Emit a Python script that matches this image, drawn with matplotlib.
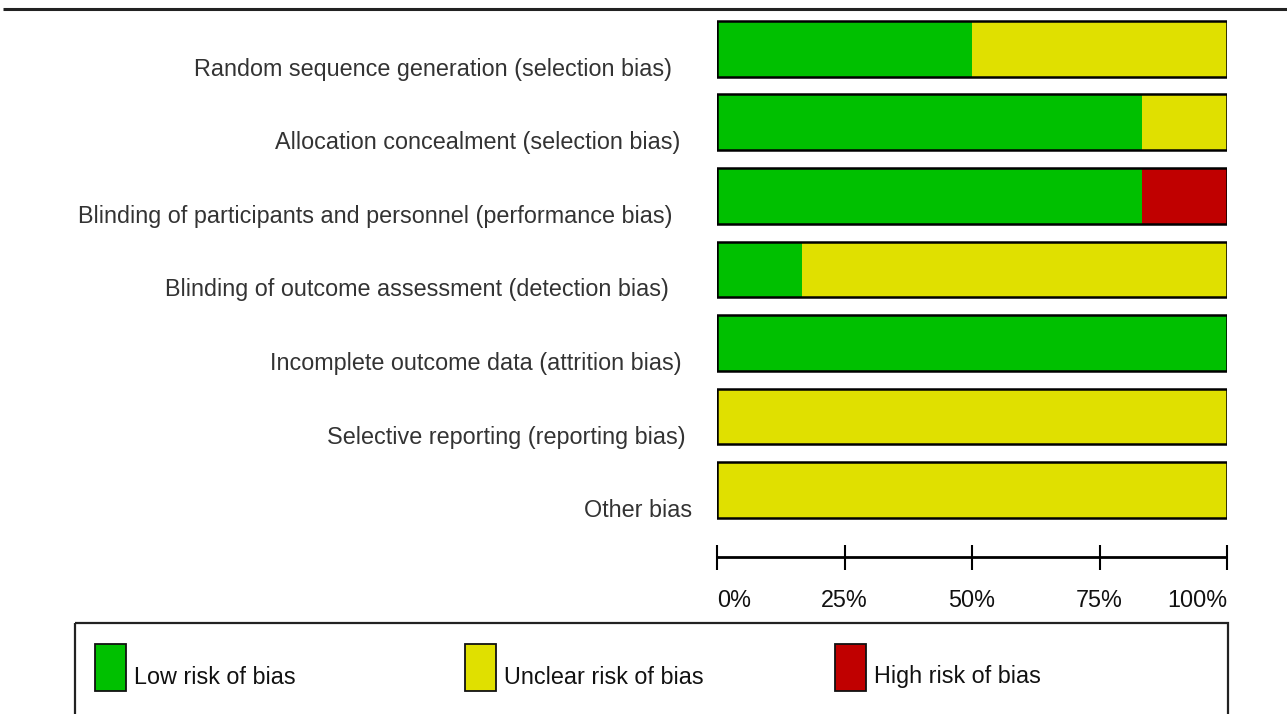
import numpy as np
import matplotlib as mat
mat.use("Agg")
import matplotlib.pyplot as plt
from matplotlib.patches import Rectangle
from matplotlib.transforms import ScaledTranslation

plt.rcParams['font.family'] = ['Liberation Sans', 'DejaVu Sans']

# risk of bias domains and percent of studies per judgement
domains = [
    "Random sequence generation (selection bias)",
    "Allocation concealment (selection bias)",
    "Blinding of participants and personnel (performance bias)",
    "Blinding of outcome assessment (detection bias)",
    "Incomplete outcome data (attrition bias)",
    "Selective reporting (reporting bias)",
    "Other bias",
]
low = [50.0, 83.33, 83.33, 16.67, 100.0, 0.0, 0.0]
unclear = [50.0, 16.67, 0.0, 83.33, 0.0, 100.0, 100.0]
high = [0.0, 0.0, 16.67, 0.0, 0.0, 0.0, 0.0]
tick_vals = [0, 25, 50, 75, 100]
tick_labels = ["0%", "25%", "50%", "75%", "100%"]
legend_names = ["Low risk of bias", "Unclear risk of bias", "High risk of bias"]

GREEN, YELLOW, RED = "#00C000", "#E0E000", "#C00000"
W, H = 1287, 714
FS = 16.85

fig = plt.figure(figsize=(W / 100, H / 100), dpi=100)

# overlay axes in pixel coords for frame lines + legend
ov = fig.add_axes([0, 0, 1, 1])
ov.set_xlim(0, W)
ov.set_ylim(H, 0)
ov.axis("off")
ov.plot([3, W], [9, 9], color="#222222", lw=2.2, solid_capstyle="butt")
ov.add_patch(Rectangle((75, 623), 1228 - 75, 120, fill=False, ec="#222222", lw=1.6))
for x0, col, name in zip([95, 465, 835], [GREEN, YELLOW, RED], legend_names):
    ov.add_patch(Rectangle((x0, 644), 31, 47, fc=col, ec="#111111", lw=1.3))
    ov.text(x0 + 39, 677, name, fontsize=FS, va="center", ha="left", color="#111111")

# main bar axes
ax = fig.add_axes([717 / W, 1 - 557 / H, 510 / W, (557 - 15) / H])
ax.set_zorder(2)
ax.patch.set_visible(False)
rows = np.arange(len(domains))
bh = 0.76
low = np.array(low)
unclear = np.array(unclear)
high = np.array(high)
ax.barh(rows, low, height=bh, color=GREEN, lw=0)
ax.barh(rows, unclear, left=low, height=bh, color=YELLOW, lw=0)
ax.barh(rows, high, left=low + unclear, height=bh, color=RED, lw=0)
ax.barh(rows, low + unclear + high, height=bh, fill=False, ec="black", lw=1.8)

ax.set_xlim(0, 100)
ax.set_ylim(6.91, -0.46)
for s in ["top", "right", "left"]:
    ax.spines[s].set_visible(False)
ax.spines["bottom"].set_linewidth(2.0)
ax.spines["bottom"].set_capstyle("butt")

ax.set_xticks(tick_vals, tick_labels, fontsize=FS, color="#111111")
ax.tick_params(axis="x", direction="inout", length=18, width=1.5, pad=14)
xl = ax.get_xticklabels()
xl[0].set_ha("left")
xl[-1].set_ha("right")

# category labels (right ends in px, shifted down a bit from bar centre)
label_right = [672, 680, 672, 669, 682, 686, 692]
ax.set_yticks(rows, domains, fontsize=FS, color="#333333")
ax.tick_params(axis="y", length=0, pad=0)
for lab, xr in zip(ax.get_yticklabels(), label_right):
    lab.set_transform(lab.get_transform() + ScaledTranslation((xr - 717) / 100, -18 / 100, fig.dpi_scale_trans))

fig.savefig("out.png", dpi=100)
